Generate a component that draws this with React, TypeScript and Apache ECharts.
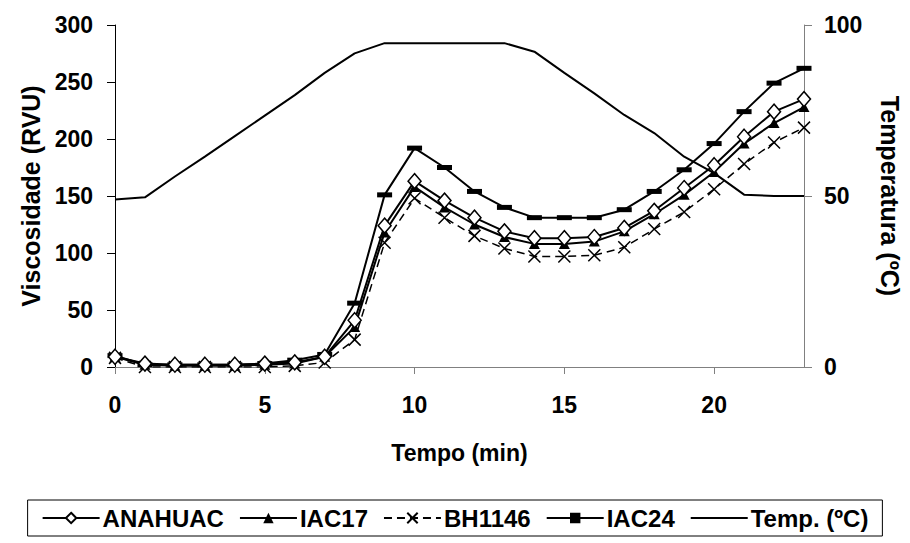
import React, { useEffect, useRef } from 'react';
import * as echarts from 'echarts';

const tempo = [0, 1, 2, 3, 4, 5, 6, 7, 8, 9, 10, 11, 12, 13, 14, 15, 16, 17, 18, 19, 20, 21, 22, 23];
const anahuac = [9, 3, 2, 2, 2, 3, 4, 9, 41, 124, 163, 146, 131, 119, 113, 113, 114, 122, 137, 157, 177, 202, 224, 235];
const iac17 = [9, 2, 1, 1, 1, 2, 3, 9, 35, 118, 158, 140, 125, 114, 108, 108, 110, 119, 134, 151, 171, 196, 214, 228];
const bh1146 = [8, 0, 0, 0, 0, 0, 1, 4, 24, 109, 148, 131, 115, 104, 97, 97, 98, 105, 121, 136, 156, 178, 197, 210];
const iac24 = [10, 2, 2, 2, 2, 3, 6, 11, 56, 151, 192, 175, 154, 140, 131, 131, 131, 138, 154, 173, 196, 224, 249, 262];
const temperatura = [49, 49.6, 55.7, 61.5, 67.5, 73.5, 79.5, 86, 91.7, 94.7, 94.7, 94.7, 94.7, 94.7, 92.2, 86, 80, 73.7, 68.4, 61.5, 56.7, 50.4, 50, 50];
const xTicks = [0, 5, 10, 15, 20];

const FONT = '"Liberation Sans", Arial, sans-serif';

const pairs = (ys: number[]) => tempo.map((t, i) => [t, ys[i]]);

export default function App() {
  const ref = useRef<HTMLDivElement>(null);
  useEffect(() => {
    const chart = echarts.init(ref.current!, null, { renderer: 'svg' });
    const lbl = { fontFamily: FONT, fontWeight: 'bold', fontSize: 23, color: '#000' };
    chart.setOption({
      animation: false,
      backgroundColor: '#fff',
      textStyle: { fontFamily: FONT },
      grid: { left: 115, right: 102, top: 25, bottom: 176, containLabel: false },
      legend: {
        left: 'center',
        top: 500,
        orient: 'horizontal',
        itemWidth: 57,
        itemHeight: 13,
        itemGap: 15,
        borderColor: '#000',
        borderWidth: 1,
        padding: [6, 14],
        textStyle: { fontFamily: FONT, fontWeight: 'bold', fontSize: 24, color: '#000', padding: [0, 0, 0, -2] },
        data: [
          'ANAHUAC',
          'IAC17',
          'BH1146',
          'IAC24',
          { name: 'Temp. (ºC)', itemStyle: { opacity: 0 } },
        ],
      },
      xAxis: {
        type: 'value',
        min: 0,
        max: 23,
        interval: 5,
        name: 'Tempo (min)',
        nameLocation: 'middle',
        nameGap: 74,
        nameTextStyle: { ...lbl, fontSize: 23 },
        axisLine: { lineStyle: { color: '#808080', width: 1 } },
        axisTick: { show: true, length: 7, lineStyle: { color: '#808080' }, customValues: xTicks },
        axisLabel: { ...lbl, margin: 26, customValues: xTicks },
        splitLine: { show: false },
      },
      yAxis: [
        {
          type: 'value',
          min: 0,
          max: 300,
          interval: 50,
          name: 'Viscosidade (RVU)',
          nameLocation: 'middle',
          nameGap: 72,
          nameRotate: 90,
          nameTextStyle: { ...lbl, fontSize: 25 },
          axisLine: { show: true, lineStyle: { color: '#000', width: 1 } },
          axisTick: { show: true, length: 8, lineStyle: { color: '#000' } },
          axisLabel: { ...lbl, margin: 22 },
          splitLine: { show: false },
        },
        {
          type: 'value',
          min: 0,
          max: 100,
          interval: 50,
          position: 'right',
          name: 'Temperatura (ºC)',
          nameLocation: 'middle',
          nameGap: 73,
          nameRotate: -90,
          nameTextStyle: { ...lbl, fontSize: 25 },
          axisLine: { show: true, lineStyle: { color: '#808080', width: 1 } },
          axisTick: { show: true, length: 8, lineStyle: { color: '#808080' } },
          axisLabel: { ...lbl, margin: 20 },
          splitLine: { show: false },
        },
      ],
      series: [
        {
          name: 'Temp. (ºC)',
          type: 'line',
          yAxisIndex: 1,
          data: pairs(temperatura),
          symbol: 'none',
          lineStyle: { color: '#000', width: 2 },
          itemStyle: { color: '#000' },
          z: 1,
        },
        {
          name: 'IAC24',
          type: 'line',
          data: pairs(iac24),
          symbol: 'rect',
          symbolSize: [15, 5],
          lineStyle: { color: '#000', width: 2 },
          itemStyle: { color: '#000' },
          z: 2,
        },
        {
          name: 'BH1146',
          type: 'line',
          data: pairs(bh1146),
          symbol: 'path://M0,0L10,10M10,0L0,10',
          symbolSize: 12,
          lineStyle: { color: '#000', width: 1.5, type: [8, 5] },
          itemStyle: { color: 'none', borderColor: '#000', borderWidth: 1.5 },
          z: 3,
        },
        {
          name: 'IAC17',
          type: 'line',
          data: pairs(iac17),
          symbol: 'triangle',
          symbolSize: [11, 10],
          lineStyle: { color: '#000', width: 2 },
          itemStyle: { color: '#000' },
          z: 4,
        },
        {
          name: 'ANAHUAC',
          type: 'line',
          data: pairs(anahuac),
          symbol: 'diamond',
          symbolSize: [13, 15],
          lineStyle: { color: '#000', width: 2 },
          itemStyle: { color: '#fff', borderColor: '#000', borderWidth: 1.5 },
          z: 5,
        },
      ],
    });
    return () => chart.dispose();
  }, []);
  return (
    <div
      ref={ref}
      style={{ position: 'fixed', left: 0, top: 0, width: 910, height: 543, background: '#fff' }}
    />
  );
}
